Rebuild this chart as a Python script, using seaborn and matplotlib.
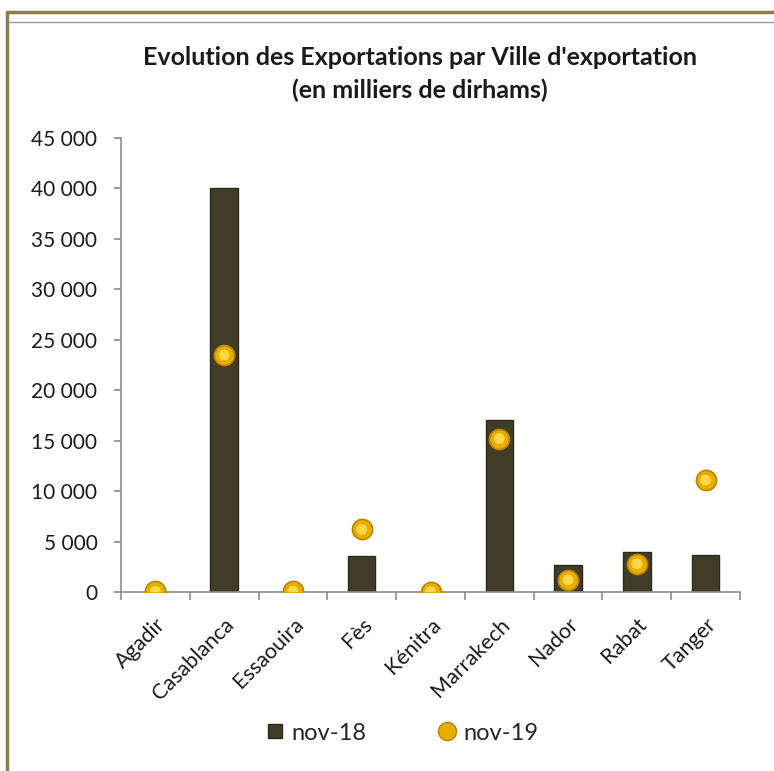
import matplotlib
matplotlib.use("Agg")
import matplotlib.pyplot as plt
import seaborn as sns
import pandas as pd
from matplotlib.ticker import FuncFormatter, MultipleLocator
from matplotlib.lines import Line2D

villes = ["Agadir", "Casablanca", "Essaouira", "Fès", "Kénitra", "Marrakech", "Nador", "Rabat", "Tanger"]
nov18 = [0, 40000, 0, 3600, 0, 17000, 2700, 4000, 3700]
nov19 = [60, 23500, 80, 6200, 40, 15200, 1200, 2800, 11100]

df = pd.DataFrame({"ville": villes, "nov-18": nov18, "nov-19": nov19})

sns.set_theme(style="white")
plt.rcParams['font.family'] = ['Lato', 'DejaVu Sans']

fig = plt.figure(figsize=(7.74, 7.71), dpi=100)
ax = fig.add_axes([121/774, (771-592)/771, (740-121)/774, (592-138)/771])

sns.barplot(data=df, x="ville", y="nov-18", color="#403c27", width=0.4,
            edgecolor="#2b2918", linewidth=1.0, saturation=1, ax=ax, zorder=2)
sns.scatterplot(data=df, x="ville", y="nov-19", s=210, color="#e9ad00",
                edgecolor="#b98300", linewidth=1.2, ax=ax, zorder=3, legend=False)
sns.scatterplot(data=df, x="ville", y="nov-19", s=60, color="#ffd84a",
                edgecolor="none", ax=ax, zorder=4, legend=False)

ax.set_xlim(-0.5, len(villes) - 0.5)
ax.set_ylim(0, 45000)
ax.yaxis.set_major_locator(MultipleLocator(5000))
ax.yaxis.set_major_formatter(FuncFormatter(lambda v, p: f"{int(v):,}".replace(",", " ")))
ax.set_xlabel("")
ax.set_ylabel("")

for s in ["top", "right"]:
    ax.spines[s].set_visible(False)
for s in ["left", "bottom"]:
    ax.spines[s].set_color("#8c8c8c")
    ax.spines[s].set_linewidth(1.2)

ax.tick_params(axis="y", which="both", left=True, length=5, color="#8c8c8c",
               labelsize=15, labelcolor="#1a1a1a", pad=12)
ax.set_xticks(range(len(villes)))
ax.set_xticklabels(villes, rotation=45, ha="right", rotation_mode="anchor",
                   fontsize=15.5, color="#1a1a1a")
ax.tick_params(axis="x", which="major", bottom=False, pad=10)
ax.set_xticks([i - 0.5 for i in range(len(villes) + 1)], minor=True)
ax.tick_params(axis="x", which="minor", bottom=True, length=6, color="#8c8c8c", width=1.2)

fig.text(0.542, 0.925, "Evolution des Exportations par Ville d'exportation",
         ha="center", va="center", fontsize=18, fontweight="bold", color="#1a1a1a")
fig.text(0.542, 0.883, "(en milliers de dirhams)",
         ha="center", va="center", fontsize=18, fontweight="bold", color="#1a1a1a")

handles = [
    Line2D([0], [0], marker="s", linestyle="", markersize=10,
           markerfacecolor="#403c27", markeredgecolor="#2b2918", label="nov-18"),
    Line2D([0], [0], marker="o", linestyle="", markersize=13,
           markerfacecolor="#e9ad00", markeredgecolor="#b98300", label="nov-19"),
]
fig.legend(handles=handles, loc="center", bbox_to_anchor=(0.518, 0.049), ncol=2,
           frameon=False, fontsize=17, handlelength=1.0, handletextpad=0.2,
           columnspacing=2.9)

# frame decoration
fig.add_artist(Line2D([7/774, 7/774], [0, 1 - 12/771], color="#8a7f4a", linewidth=2.5,
                      transform=fig.transFigure))
fig.add_artist(Line2D([7/774, 1], [1 - 12/771, 1 - 12/771], color="#8a7f4a", linewidth=2.5,
                      transform=fig.transFigure))
fig.add_artist(Line2D([9/774, 1], [1 - 22/771, 1 - 22/771], color="#9a9a9a", linewidth=1,
                      transform=fig.transFigure))

fig.savefig("out.png", dpi=100, facecolor="white")
